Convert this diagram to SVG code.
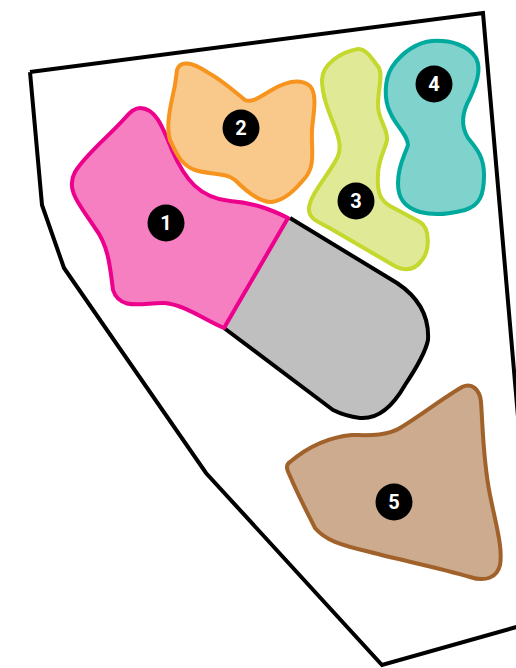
<svg xmlns="http://www.w3.org/2000/svg" width="516" height="668" viewBox="0 0 516 668">
<style>
.bd{fill:#fff;stroke:#000;stroke-width:4;stroke-linejoin:miter}
.zone{stroke-width:4;stroke-linejoin:round}
.badge{fill:#000}
.num{fill:#fff;font-family:Roboto,"DejaVu Sans",sans-serif;font-weight:bold;font-size:20px;text-anchor:middle;dominant-baseline:central}
</style>
<rect width="516" height="668" fill="#fff"/>
<g id="boundary">
<path class="bd" d="M30,72 L483,13 L520,440 M520,626 L382,665 L206,473 L64,268 L42,205 L30,72"/>
</g>
<g id="grey">
<path d="M290,218 L397,283 Q430,305 428,340 Q425,355 405,385 Q385,420 360,418 Q345,416 333,410 L224,328 Z" fill="#bfbfbf"/>
<path d="M290,218 L397,283 Q430,305 428,340 Q425,355 405,385 Q385,420 360,418 Q345,416 333,410 L224,328" fill="none" stroke="#000" stroke-width="4" stroke-linejoin="round"/>
</g>
<g id="zone1">
<path class="zone" fill="#f57fc1" stroke="#ec008c" d="M140,108 C155,108 162,125 172,150 C185,180 200,198 230,201 C255,203 272,210 288,218 L224,328 C205,320 185,305 165,303 C145,302 120,312 113,290 C110,265 108,245 95,228 C80,205 65,190 75,172 C85,155 110,135 125,118 C130,112 135,108 140,108 Z"/>
<circle class="badge" cx="166" cy="223" r="18.5"/>
<text class="num" x="166" y="223">1</text>
</g>
<g id="zone2">
<path class="zone" fill="#f9c98c" stroke="#f7941d" d="M177,70 C180,60 192,62 207,72 C222,80 235,92 245,100 C252,103 260,97 270,91 C285,82 300,78 310,86 C318,95 313,115 312,130 C311,150 316,165 305,178 C295,190 285,200 272,202 C260,203 245,190 235,180 C225,172 210,175 195,170 C180,165 175,150 170,140 C165,125 172,100 175,85 Z"/>
<circle class="badge" cx="241" cy="128" r="18.5"/>
<text class="num" x="241" y="128">2</text>
</g>
<g id="zone3">
<path class="zone" fill="#dfe996" stroke="#c4d82e" d="M358,49 C365,48 372,58 379,68 C383,75 378,90 378,105 C378,120 388,128 387,140 C385,150 378,160 378,175 C377,192 380,200 390,206 L420,222 C430,228 430,250 422,260 C415,270 405,272 393,265 L333,230 C320,222 308,220 309,208 C310,195 328,175 336,160 C342,150 340,140 334,125 C328,110 322,95 322,80 C322,65 340,52 358,49 Z"/>
<circle class="badge" cx="356" cy="201" r="18.5"/>
<text class="num" x="356" y="201">3</text>
</g>
<g id="zone4">
<path class="zone" fill="#7fd3cc" stroke="#00a99d" d="M432,41 C450,40 468,45 476,58 C482,70 476,85 470,98 C462,112 460,125 468,138 C478,150 484,158 484,175 C484,195 480,205 465,210 C450,214 435,216 420,212 C404,207 398,198 398,183 C398,165 405,155 408,145 C408,135 395,125 390,112 C384,100 384,80 392,67 C402,52 418,42 432,41 Z"/>
<circle class="badge" cx="434" cy="84" r="18.5"/>
<text class="num" x="434" y="84">4</text>
</g>
<g id="zone5">
<path class="zone" fill="#ccab8f" stroke="#a0622a" d="M462,387 C472,382 480,390 481,402 C483,430 483,460 490,495 C496,525 503,548 500,565 C497,578 485,582 470,577 C440,568 400,560 370,552 C340,545 325,540 315,528 C307,512 298,495 290,476 C287,470 285,465 290,462 C310,445 330,437 352,435 C365,435 385,437 400,428 C420,416 440,400 462,387 Z"/>
<circle class="badge" cx="394" cy="502" r="18.5"/>
<text class="num" x="394" y="502">5</text>
</g>
</svg>
